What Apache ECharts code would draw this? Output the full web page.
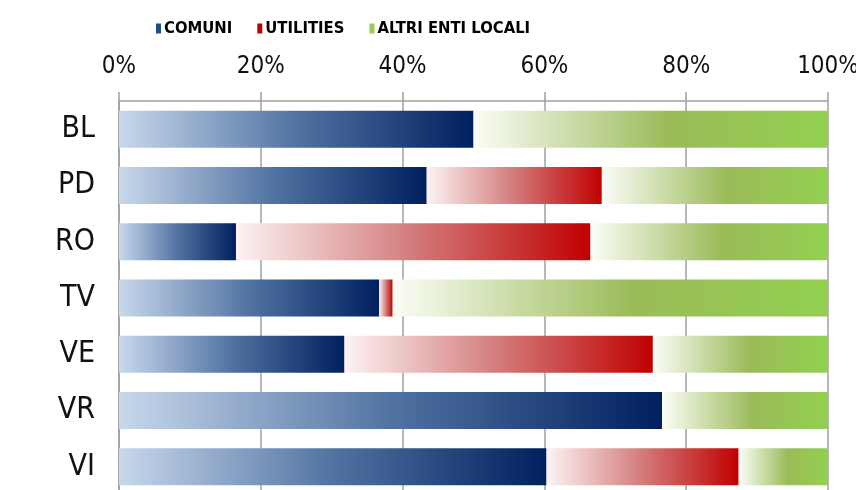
<!DOCTYPE html>
<html>
<head>
<meta charset="utf-8">
<script src="https://cdn.jsdelivr.net/npm/echarts@6/dist/echarts.min.js"></script>
<style>html,body{margin:0;padding:0;background:#fff;overflow:hidden}#c{width:856px;height:490px}</style>
</head>
<body>
<div id="c"></div>
<script>
const categories = ['BL', 'PD', 'RO', 'TV', 'VE', 'VR', 'VI'];
const comuni = [50.0, 43.4, 16.5, 36.7, 31.8, 76.6, 60.3];
const utilities = [0, 24.7, 50.0, 1.9, 43.5, 0, 27.1];
const altri = [50.0, 31.9, 33.5, 61.4, 24.7, 23.4, 12.6];
const xTicks = ['0%', '20%', '40%', '60%', '80%', '100%'];

const G = echarts.graphic.LinearGradient;
const blueGrad = new G(0, 0, 1, 0, [{offset: 0, color: '#c8d8ec'}, {offset: 0.5, color: '#5173a2'}, {offset: 1, color: '#00205e'}]);
const redGrad = new G(0, 0, 1, 0, [{offset: 0, color: '#fdf3f3'}, {offset: 0.5, color: '#d37b7b'}, {offset: 1, color: '#c00000'}]);
const greenGrad = new G(0, 0, 1, 0, [{offset: 0, color: '#fbfdf7'}, {offset: 0.55, color: '#9bbb59'}, {offset: 1, color: '#92d050'}]);

const chart = echarts.init(document.getElementById('c'));
const catFont = "'DejaVu Sans Condensed', 'DejaVu Sans', sans-serif";
const legFont = "'Liberation Sans Narrow', 'DejaVu Sans Condensed', sans-serif";
const mk = (name, data, grad) => ({
  name, type: 'bar', stack: 'all', data, barWidth: 37,
  itemStyle: {color: grad},
  emphasis: {disabled: true}
});
chart.setOption({
  animation: false,
  legend: {
    top: 15, left: 151, itemWidth: 5, itemHeight: 10, itemGap: 25,
    icon: 'rect',
    textStyle: {fontFamily: legFont, fontWeight: 'bold', fontSize: 16.5, color: '#000', padding: [0, 0, 0, -2]},
    data: [
      {name: 'COMUNI', itemStyle: {color: '#1f4e8c'}},
      {name: 'UTILITIES', itemStyle: {color: '#c00000'}},
      {name: 'ALTRI ENTI LOCALI', itemStyle: {color: '#92d050'}}
    ]
  },
  grid: {left: 119, right: 28, top: 101, bottom: -5, containLabel: false, outerBoundsMode: 'none'},
  xAxis: {
    type: 'value', position: 'top', min: 0, max: 100, interval: 20,
    axisLine: {show: true, lineStyle: {color: '#a0a0a0', width: 1.5}},
    axisTick: {show: true, length: 9, inside: false, lineStyle: {color: '#a0a0a0', width: 1.5}},
    splitLine: {show: true, lineStyle: {color: '#a0a0a0', width: 1.5}},
    axisLabel: {
      margin: 22, fontFamily: catFont, fontSize: 24, color: '#111',
      formatter: v => xTicks[Math.round(v / 20)]
    }
  },
  yAxis: {
    type: 'category', inverse: true, data: categories,
    axisLine: {show: true, lineStyle: {color: '#a0a0a0', width: 1.5}},
    axisTick: {show: false},
    axisLabel: {margin: 24, fontFamily: catFont, fontSize: 30, color: '#111'}
  },
  series: [
    mk('COMUNI', comuni, blueGrad),
    mk('UTILITIES', utilities, redGrad),
    mk('ALTRI ENTI LOCALI', altri, greenGrad)
  ]
});
</script>
</body>
</html>
